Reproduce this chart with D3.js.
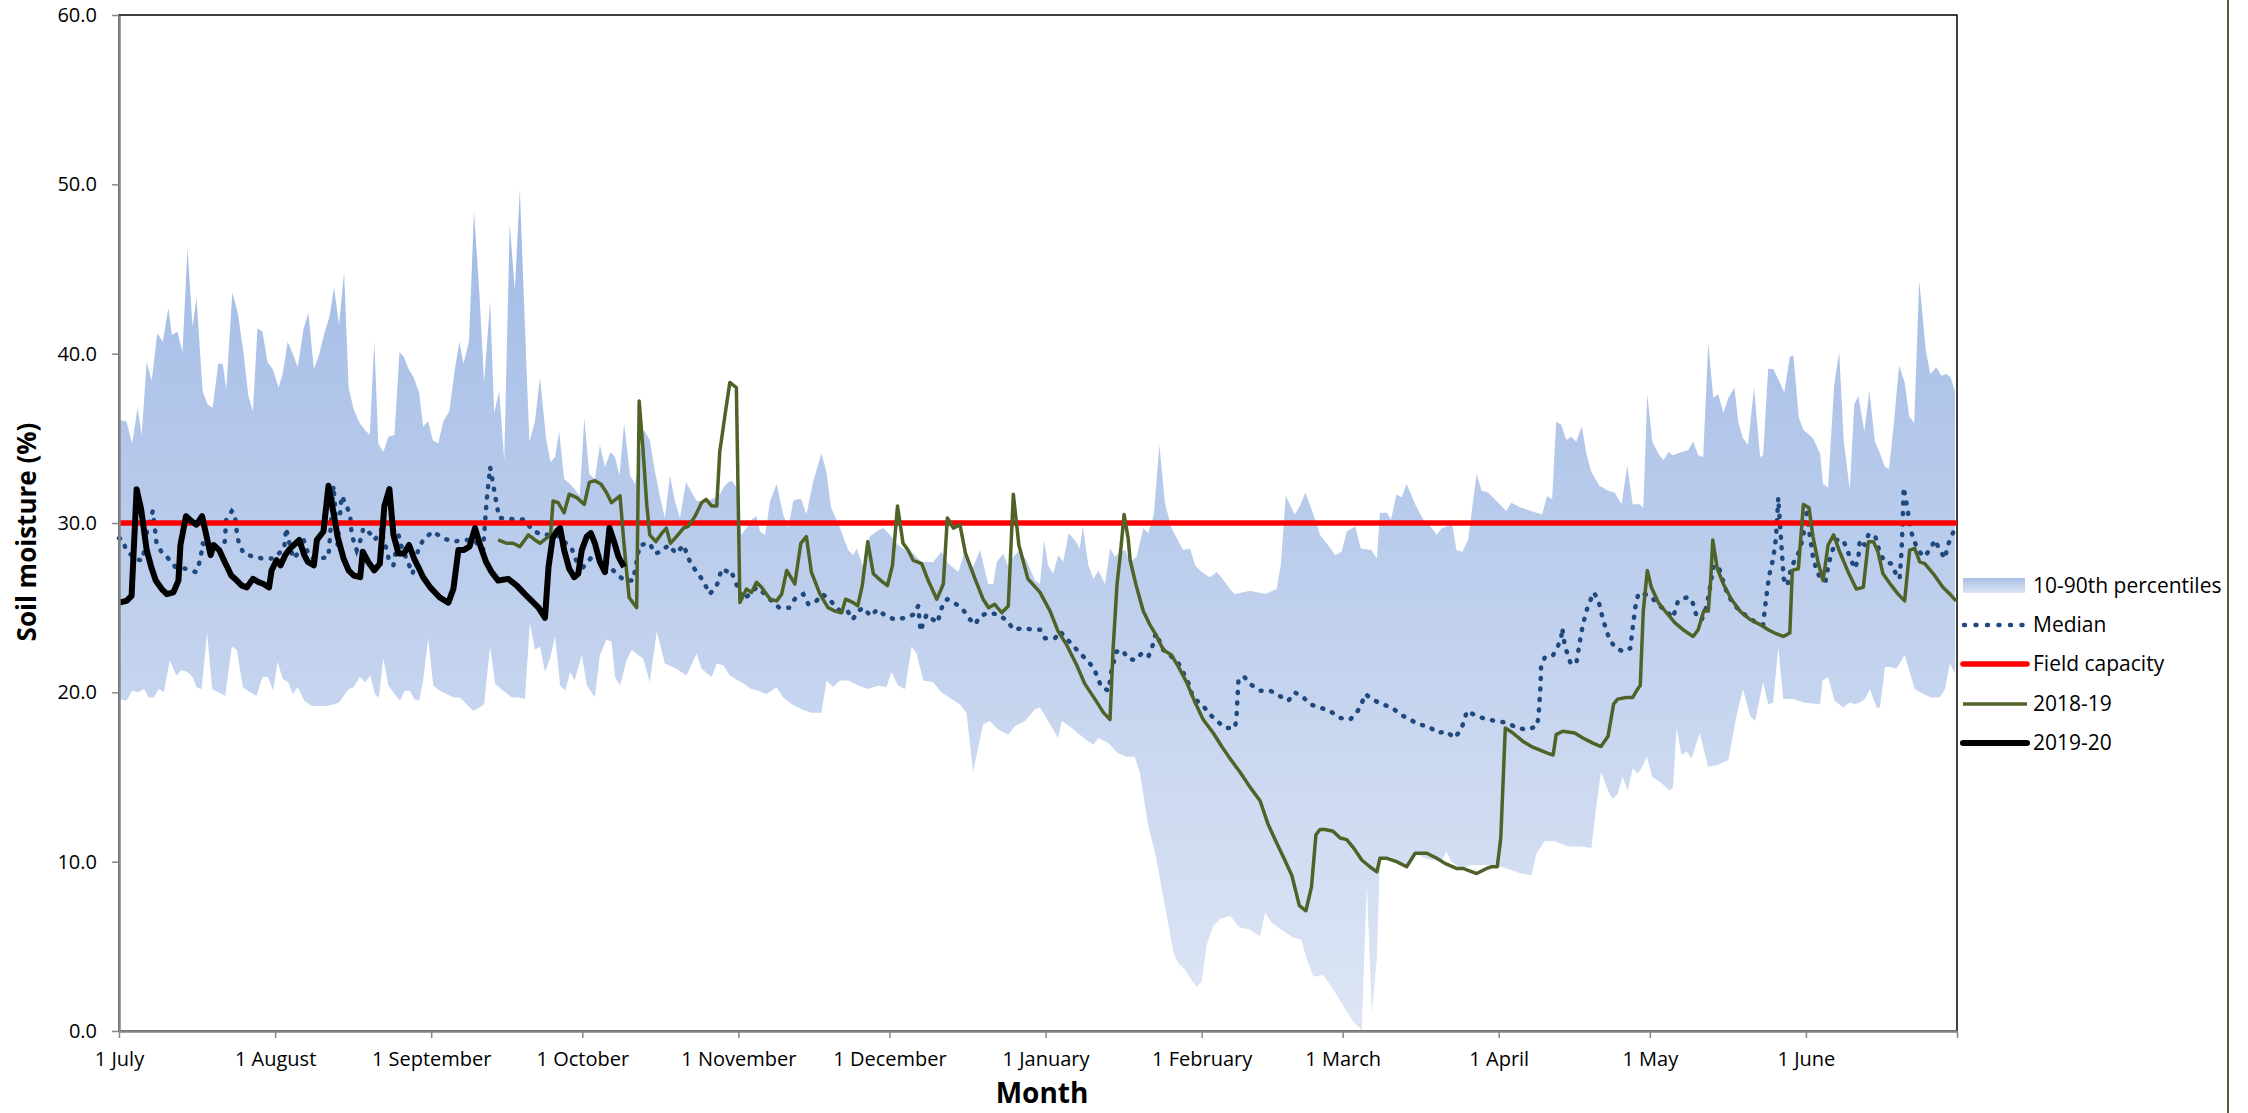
<!DOCTYPE html>
<html>
<head>
<meta charset="utf-8">
<script src="https://cdn.jsdelivr.net/npm/d3@7/dist/d3.min.js"></script>
<style>
  body { margin: 0; background: #fff; }
  svg { display: block; }
  text { font-family: "Open Sans", sans-serif; fill: #000; }
</style>
</head>
<body>
<svg id="chart" width="2248" height="1113"></svg>
<script>
// day offsets are counted from 1 July, values are soil moisture (%)
const monthLabels = ["1 July", "1 August", "1 September", "1 October", "1 November", "1 December",
  "1 January", "1 February", "1 March", "1 April", "1 May", "1 June"];
const yTicks = [0, 10, 20, 30, 40, 50, 60];
const legendLabels = ["10-90th percentiles", "Median", "Field capacity", "2018-19", "2019-20"];

const fieldCapacity = [[0, 30], [365, 30]];

const p90 = [[0,36.1],[1.5,36.0],[2.6,34.7],[3.7,36.8],[4.5,35.2],[5.5,39.5],[6.5,38.4],[7.6,41.2],[8.7,40.7],[9.8,42.7],
  [10.5,41.1],[11.6,41.3],[12.6,40.1],[13.6,46.2],[14.6,41.6],[15.4,43.3],[16.6,37.8],[17.6,37.0],[18.6,36.8],[19.7,39.4],
  [20.6,39.4],[21.3,37.9],[22.5,43.6],[23.6,42.4],[24.7,40.1],[25.7,37.5],[26.6,36.6],[27.5,41.5],[28.5,41.3],[29.5,39.5],
  [30.5,39.1],[31.7,38.0],[32.5,38.8],[33.5,40.7],[34.5,40.0],[35.5,39.2],[36.6,41.4],[37.6,42.4],[38.7,39.1],[39.7,39.9],
  [40.8,41.2],[41.8,42.2],[42.7,43.9],[43.7,41.7],[44.7,44.8],[45.6,38.0],[46.6,36.7],[47.8,35.9],[48.8,35.5],[49.8,35.2],
  [50.7,40.7],[51.5,34.7],[52.5,34.2],[53.5,35.1],[54.7,35.2],[55.7,40.1],[56.6,39.8],[57.5,39.1],[58.5,38.6],[59.6,37.7],
  [60.4,35.7],[61.4,36.0],[62.3,34.9],[63.4,34.7],[64.4,36.0],[65.6,36.6],[66.7,39.1],[67.6,40.7],[68.4,39.4],[69.5,40.7],
  [70.5,48.4],[71.6,43.4],[72.5,38.3],[73.7,43.1],[74.5,36.5],[75.5,37.8],[76.5,33.7],[77.6,47.7],[78.6,43.7],[79.6,49.7],
  [80.6,41.7],[81.5,34.8],[82.6,36.0],[83.6,38.6],[84.8,35.0],[85.7,33.6],[86.6,33.9],[87.4,35.4],[88.4,32.6],[89.6,32.3],
  [90.5,32.0],[91.5,31.6],[92.4,36.2],[93.4,32.9],[94.5,32.6],[95.5,34.6],[96.5,33.3],[97.6,34.2],[98.5,33.9],[99.4,32.8],
  [100.3,35.9],[101.5,32.8],[102.5,32.3],[104.2,35.5],[105.4,34.9],[106.4,33.1],[107.4,31.6],[108.4,30.3],[109.4,32.8],[110.4,31.3],
  [111.4,30.3],[112.6,32.4],[114.7,31.3],[116.9,31.3],[119.1,31.6],[120.3,32.2],[121.0,32.4],[121.7,32.5],[122.6,32.1],[123.6,29.3],
  [124.6,29.7],[125.6,30.2],[126.6,30.4],[127.3,29.5],[128.3,29.3],[129.3,31.3],[130.6,32.3],[131.9,30.5],[132.9,29.7],[133.9,31.3],
  [134.6,31.4],[135.5,31.4],[136.5,30.5],[137.9,32.5],[139.5,34.1],[140.5,33.0],[141.4,30.9],[142.8,30.0],[143.8,29.2],[144.8,28.4],
  [145.8,28.1],[146.5,28.5],[147.8,27.4],[149.1,29.2],[150.4,29.5],[151.8,29.7],[153.1,29.3],[154.7,28.7],[156.1,28.4],[157.4,28.3],
  [159.4,27.7],[161.7,27.7],[163.3,28.3],[164.7,27.6],[166.7,27.1],[168.0,28.4],[169.3,27.2],[171.0,28.4],[172.6,26.4],[173.6,26.4],
  [174.3,27.7],[175.6,28.2],[176.6,27.4],[177.6,28.0],[178.9,28.4],[180.2,27.8],[181.9,26.6],[182.9,26.4],[183.7,29.0],[184.5,27.5],
  [185.5,27.0],[186.5,28.1],[187.5,27.7],[188.6,29.4],[189.8,29.0],[190.8,28.5],[191.4,29.8],[192.5,27.5],[193.5,26.7],[194.5,27.2],
  [195.8,26.4],[196.8,28.5],[197.8,28.0],[198.8,28.3],[199.8,28.4],[200.8,27.7],[202.1,28.0],[203.4,29.7],[204.4,29.4],[205.5,30.5],
  [206.6,34.6],[207.7,31.2],[209.0,29.7],[211.3,28.4],[212.7,28.5],[213.7,27.5],[215.0,27.1],[216.6,26.8],[218.0,27.1],[218.9,26.8],
  [220.9,26.0],[221.6,25.8],[224.6,26.0],[227.6,25.8],[229.9,26.1],[230.7,27.5],[231.7,31.6],[233.5,30.5],[234.5,31.0],[235.6,31.8],
  [237.2,30.5],[238.5,29.3],[240.1,28.7],[241.5,28.1],[242.8,28.3],[243.8,29.5],[245.5,29.8],[246.6,28.5],[248.7,28.4],[249.8,27.9],
  [250.4,30.6],[251.8,30.6],[252.6,30.2],[253.7,31.7],[254.7,31.5],[255.7,32.3],[257.4,31.1],[259.0,30.2],[260.7,29.7],[261.7,29.3],
  [262.7,29.7],[263.7,29.8],[264.6,30.2],[265.6,28.4],[266.8,28.3],[267.9,29.0],[269.6,32.9],[270.6,31.9],[271.9,31.8],[273.9,31.2],
  [275.5,30.7],[276.5,31.2],[278.5,30.9],[280.5,30.7],[282.6,30.5],[283.6,31.6],[284.6,31.4],[285.4,36.0],[286.4,35.8],[287.4,34.9],
  [288.4,35.1],[289.4,34.8],[290.5,35.7],[291.4,34.1],[292.4,33.0],[294.0,32.2],[295.7,31.9],[297.0,31.8],[298.4,31.1],[299.5,33.4],
  [300.6,31.1],[301.9,31.1],[302.7,30.9],[303.5,37.6],[304.5,34.8],[305.7,34.1],[306.7,33.7],[307.7,34.2],[308.6,34.0],[310.3,34.2],
  [311.6,34.3],[312.6,34.8],[313.6,34.0],[314.6,33.9],[315.6,40.6],[316.6,37.4],[317.6,37.6],[318.6,36.5],[319.6,37.4],[320.8,38.0],
  [321.6,35.9],[322.5,35.0],[323.5,34.6],[324.7,38.0],[325.9,33.9],[326.5,34.0],[327.5,39.1],[328.5,39.1],[329.5,38.5],[330.7,37.7],
  [331.8,39.8],[332.5,39.9],[333.6,36.2],[334.5,35.5],[336.4,35.0],[337.8,34.1],[338.4,32.3],[339.4,32.1],[340.6,38.1],[341.6,40.1],
  [342.5,34.9],[343.7,32.0],[344.6,37.0],[345.4,37.5],[346.6,35.4],[347.6,37.8],[348.7,34.8],[349.7,34.1],[350.7,33.3],[351.5,33.2],
  [352.5,36.0],[353.5,39.3],[354.6,38.3],[355.5,36.3],[356.5,35.9],[357.5,44.3],[358.8,40.2],[359.7,38.8],[360.9,39.2],[361.9,38.7],
  [362.9,38.8],[363.7,38.6],[364.6,37.8]];

const p10 = [[0,19.6],[1.5,19.5],[2.6,20.1],[3.7,20.0],[5.0,20.2],[5.9,19.7],[6.9,19.7],[7.9,20.2],[8.9,20.0],[10.1,21.9],
  [11.4,21.0],[12.4,21.3],[13.6,21.2],[14.6,20.9],[15.4,20.3],[16.4,20.2],[17.5,23.5],[18.5,20.2],[19.7,20.0],[21.1,19.8],
  [22.4,22.7],[23.4,22.5],[24.6,20.3],[26.0,20.0],[27.3,19.8],[28.5,20.9],[29.6,20.9],[30.6,20.1],[31.5,21.8],[32.5,20.8],
  [33.6,20.6],[34.5,19.9],[35.5,20.3],[36.8,19.5],[38.3,19.2],[39.7,19.2],[41.2,19.2],[42.8,19.3],[43.7,19.4],[45.6,20.2],
  [46.6,20.3],[47.8,20.9],[48.9,20.6],[49.9,21.0],[50.8,19.9],[51.6,19.7],[52.5,22.0],[53.5,20.4],[54.7,19.9],[55.8,19.5],
  [56.7,20.1],[57.8,20.1],[58.6,19.6],[59.6,19.5],[60.4,20.7],[61.4,23.2],[62.4,20.4],[63.7,20.1],[65.1,19.9],[66.4,19.7],
  [67.7,19.7],[69.0,19.3],[70.4,18.9],[71.6,19.1],[72.5,19.3],[73.7,22.7],[74.7,20.5],[76.3,20.1],[78.0,19.7],[79.3,19.7],
  [80.6,19.6],[81.6,24.1],[82.6,22.5],[83.6,22.7],[84.6,21.2],[85.6,22.0],[86.6,23.3],[87.6,20.4],[88.6,20.1],[89.6,21.2],
  [90.5,20.7],[91.9,22.2],[92.9,20.4],[94.5,19.7],[95.5,22.2],[96.8,23.1],[97.8,23.0],[98.5,20.9],[99.5,20.4],[100.8,21.9],
  [101.8,22.5],[103.1,22.2],[104.1,22.0],[105.4,20.6],[106.8,23.6],[108.4,21.7],[110.7,21.4],[112.7,21.0],[114.7,22.3],[115.7,21.4],
  [117.7,20.9],[118.7,21.7],[120.0,21.6],[121.3,21.0],[122.3,20.8],[123.6,20.6],[125.6,20.2],[126.9,20.1],[128.6,19.9],[130.6,20.3],
  [131.9,19.7],[133.6,19.3],[135.5,19.0],[137.5,18.8],[139.5,18.8],[140.5,20.7],[141.8,20.3],[143.2,20.7],[144.8,20.7],[146.8,20.4],
  [148.8,20.2],[150.8,20.4],[152.4,20.3],[153.4,21.2],[154.7,20.4],[156.1,20.2],[157.4,22.7],[158.4,22.3],[159.7,20.7],[161.7,20.6],
  [163.3,20.0],[165.3,19.6],[167.0,19.3],[168.3,18.8],[169.6,15.3],[171.6,18.1],[172.9,18.3],[174.6,17.8],[176.6,17.5],[177.9,18.0],
  [179.9,18.3],[181.9,19.0],[182.9,19.1],[183.9,18.6],[185.5,17.8],[186.5,17.3],[187.2,18.3],[188.8,18.0],[190.8,17.5],[192.5,17.1],
  [193.5,16.9],[194.5,17.3],[196.5,17.0],[198.4,16.4],[200.1,16.2],[201.7,16.2],[202.7,15.3],[204.4,12.1],[205.7,10.6],[207.4,7.9],
  [209.4,4.6],[210.4,4.0],[211.7,3.6],[213.0,3.0],[214.0,2.6],[215.0,2.9],[216.0,5.1],[217.3,6.2],[218.6,6.6],[220.6,6.8],
  [222.6,6.1],[224.6,6.0],[226.6,5.6],[227.6,7.0],[228.9,6.4],[231.2,5.9],[233.2,5.5],[234.8,5.4],[235.8,4.3],[237.2,3.2],
  [239.1,3.3],[240.8,2.6],[242.5,1.8],[243.5,1.3],[245.2,0.5],[246.8,0.05],[247.8,8.7],[248.8,1.0],[249.8,4.3],[250.4,10.3],
  [252.1,10.1],[253.7,10.1],[255.7,9.7],[257.4,10.5],[259.3,10.2],[261.0,10.1],[262.6,10.0],[263.6,10.6],[264.6,10.0],[266.6,9.6],
  [268.6,9.8],[270.6,9.8],[272.5,9.8],[274.5,9.7],[276.5,9.5],[278.5,9.3],[280.5,9.2],[281.5,10.5],[283.1,11.2],[285.1,11.2],
  [287.7,10.9],[290.4,10.9],[292.4,10.8],[293.3,13.1],[294.3,15.3],[295.7,14.2],[296.6,13.7],[297.6,14.0],[298.6,15.0],[299.6,14.2],
  [300.6,15.5],[301.6,15.2],[302.3,15.5],[303.4,16.2],[304.5,15.0],[306.0,14.7],[308.0,14.2],[308.6,14.4],[309.3,17.9],[310.3,16.3],
  [311.3,16.5],[312.3,16.1],[313.9,17.6],[315.6,15.6],[317.3,15.7],[319.6,16.0],[321.2,18.6],[322.5,20.2],[323.9,18.6],[324.9,18.3],
  [326.5,20.6],[327.5,19.3],[328.5,19.4],[329.5,22.7],[330.5,19.6],[332.5,19.6],[334.5,19.4],[337.8,19.3],[338.3,20.7],[339.4,20.9],
  [340.7,19.5],[342.4,19.1],[343.7,19.4],[344.7,19.3],[345.7,19.4],[346.7,19.6],[347.7,20.2],[349.0,19.1],[349.7,19.1],[350.7,21.5],
  [351.7,21.5],[353.0,21.4],[354.6,22.2],[355.6,21.2],[356.6,20.2],[358.3,19.9],[359.9,19.7],[361.6,19.7],[362.6,20.2],[363.6,21.7],
  [364.6,21.1]];

const median = [[0,29.1],[0.8,29.0],[1.3,28.5],[3.0,27.9],[4.3,27.8],[4.7,27.8],[5.6,29.6],[6.7,30.7],[7.2,29.5],[7.4,28.9],
  [8.4,28.3],[9.8,27.9],[11.2,27.4],[13.2,27.3],[15.3,27.1],[15.9,27.6],[16.4,28.3],[16.6,28.8],[18.0,28.5],[19.6,28.2],
  [21.0,28.9],[21.3,30.2],[22.4,30.7],[23.0,30.5],[23.5,29.2],[23.9,28.7],[24.8,28.2],[26.7,28.0],[28.6,27.9],[30.7,27.9],
  [32.8,28.5],[33.2,29.7],[33.6,29.1],[34.2,28.4],[34.6,27.9],[35.5,28.2],[36.6,29.1],[37.1,28.5],[38.3,27.9],[39.9,27.9],
  [41.6,28.0],[42.1,30.0],[42.6,32.2],[42.9,31.0],[43.4,28.7],[44.2,31.6],[44.9,31.2],[45.9,30.5],[46.2,29.3],[47.2,28.4],
  [48.2,29.2],[48.5,29.7],[49.8,29.4],[50.7,29.0],[51.6,29.3],[52.2,29.7],[52.5,29.0],[53.2,28.4],[53.6,27.8],[54.5,27.5],
  [55.5,29.3],[56.1,28.6],[57.5,27.6],[58.3,27.0],[59.4,28.4],[60.4,29.0],[62.3,29.5],[64.4,29.1],[66.4,28.9],[68.4,29.0],
  [70.5,29.0],[72.3,28.4],[73.0,31.3],[73.7,33.3],[74.7,31.6],[75.5,30.3],[79.0,30.2],[80.6,30.2],[82.0,29.6],[83.9,29.3],
  [86.9,29.3],[89.9,28.5],[90.9,27.7],[92.2,27.4],[94.2,28.1],[95.8,28.0],[97.2,27.5],[99.1,26.9],[100.5,26.6],[102.1,26.6],
  [103.4,28.7],[105.4,28.8],[106.4,28.2],[107.7,28.3],[109.1,28.7],[110.7,28.2],[112.1,28.7],[113.4,27.7],[114.7,27.1],[116.0,26.6],
  [117.3,25.8],[118.7,26.3],[119.7,27.3],[121.0,27.1],[121.5,27.2],[122.3,26.6],[123.0,26.1],[124.0,25.5],[125.3,25.8],[126.6,26.2],
  [128.3,25.8],[129.6,25.4],[131.1,25.0],[133.1,25.0],[134.4,25.6],[135.9,25.8],[136.9,25.2],[138.2,25.3],[139.7,25.8],[141.0,25.5],
  [143.2,24.8],[144.7,24.8],[145.7,24.3],[146.8,24.8],[147.8,25.0],[149.3,24.5],[150.6,24.9],[152.3,24.5],[154.1,24.3],[156.1,24.4],
  [157.9,24.6],[158.7,25.1],[159.2,23.6],[159.7,24.1],[160.4,24.6],[161.2,24.4],[162.5,24.1],[163.2,24.8],[163.7,25.3],[164.5,25.5],
  [166.3,25.2],[167.8,24.8],[169.0,24.3],[170.0,24.0],[171.0,24.5],[172.6,24.7],[174.6,24.6],[176.5,24.2],[177.6,23.7],[179.6,23.8],
  [181.5,23.7],[182.9,23.7],[183.9,23.2],[185.9,23.2],[186.9,23.6],[188.0,23.2],[189.4,22.8],[190.8,22.3],[192.3,21.9],[193.6,21.4],
  [194.3,20.9],[195.1,20.3],[196.5,20.1],[197.1,21.3],[198.1,22.4],[199.3,22.5],[200.3,22.0],[201.8,21.9],[203.1,22.3],[204.4,22.1],
  [205.3,22.8],[205.9,23.5],[207.4,22.5],[208.7,22.2],[210.4,21.7],[211.3,21.2],[212.3,20.6],[213.3,19.7],[215.3,19.2],[216.6,18.7],
  [218.1,18.3],[219.6,17.9],[221.6,17.9],[221.9,18.4],[222.1,19.6],[222.3,20.7],[222.7,20.9],[223.5,20.9],[224.6,20.5],[226.6,20.1],
  [228.6,20.1],[230.4,19.8],[232.2,19.5],[233.5,20.0],[235.2,19.7],[236.5,19.3],[238.5,19.1],[240.5,18.9],[242.3,18.5],[244.5,18.4],
  [245.8,18.8],[246.7,19.3],[247.5,19.9],[248.8,19.6],[250.8,19.3],[252.8,19.1],[254.4,18.7],[256.4,18.4],[258.0,18.1],[260.0,18.0],
  [261.9,17.6],[263.6,17.7],[265.2,17.3],[266.5,17.8],[267.1,18.3],[267.7,18.9],[269.6,18.6],[271.7,18.4],[273.7,18.3],[275.7,18.2],
  [277.6,17.9],[279.7,17.8],[281.6,18.0],[281.9,18.6],[282.3,20.4],[282.4,21.5],[283.2,22.1],[284.8,22.2],[285.7,22.7],[286.4,23.2],
  [286.6,23.8],[287.1,22.8],[287.7,22.2],[288.3,21.7],[289.4,21.7],[290.0,22.8],[290.7,24.0],[291.7,25.1],[292.9,25.9],[293.8,25.4],
  [294.7,24.3],[296.0,23.1],[297.3,22.6],[298.8,22.4],[300.1,22.6],[300.6,23.8],[301.1,25.0],[301.7,25.8],[302.0,25.9],[304.0,25.7],
  [306.0,25.1],[307.3,24.8],[308.6,24.4],[309.6,25.4],[311.3,25.6],[312.3,25.5],[312.8,25.0],[313.4,24.4],[314.3,24.3],[315.3,25.1],
  [315.9,26.1],[316.6,27.4],[317.6,27.5],[318.3,26.8],[319.4,25.8],[320.9,25.1],[323.2,24.5],[325.2,24.1],[326.5,24.0],[326.8,24.8],
  [327.2,25.8],[327.7,26.9],[328.5,27.9],[329.0,29.0],[329.3,30.3],[329.5,31.5],[330.2,28.4],[330.6,26.7],[331.3,26.3],[332.1,27.4],
  [332.8,27.8],[333.8,28.4],[334.5,29.3],[335.1,30.6],[336.4,28.0],[337.1,27.2],[338.1,26.6],[338.9,26.6],[339.6,27.7],[340.3,28.4],
  [341.1,29.0],[342.4,29.0],[343.2,28.4],[344.0,27.8],[344.7,27.3],[345.4,27.9],[345.7,29.0],[346.7,28.7],[347.4,29.3],[348.7,29.3],
  [349.7,28.2],[350.7,27.7],[352.0,27.6],[353.0,26.9],[353.6,26.7],[354.0,28.4],[354.2,30.0],[354.4,32.1],[354.9,31.3],[355.5,30.2],
  [355.9,29.5],[356.4,29.0],[357.3,28.4],[358.4,28.0],[359.6,28.4],[360.6,29.0],[361.6,28.4],[362.6,27.9],[363.2,28.7],[363.9,29.2],
  [364.6,29.7]];

const season2018 = [[75.3,29.0],[77.0,28.8],[78.3,28.8],[79.6,28.6],[81.3,29.3],[82.6,29.0],[83.6,28.8],[84.9,29.1],[85.7,29.3],[86.2,31.3],
  [87.2,31.2],[88.4,30.6],[89.4,31.7],[90.9,31.5],[92.4,31.1],[93.4,32.4],[94.5,32.5],[95.7,32.3],[96.8,31.8],[97.8,31.2],
  [99.5,31.6],[100.3,28.7],[101.3,25.6],[102.8,25.0],[103.3,37.2],[104.0,34.6],[104.8,31.1],[105.4,29.3],[106.6,28.9],[107.8,29.4],
  [108.7,29.7],[109.5,28.8],[110.7,29.2],[112.1,29.7],[113.0,29.8],[114.4,30.4],[115.7,31.2],[116.6,31.4],[117.7,31.0],[118.7,31.0],
  [119.3,34.2],[120.4,36.5],[121.3,38.3],[122.6,38.0],[123.3,25.3],[124.6,26.1],[125.6,25.9],[126.6,26.5],[127.6,26.2],[129.3,25.5],
  [130.6,25.4],[131.6,25.8],[132.6,27.2],[134.2,26.4],[135.4,28.8],[136.5,29.2],[137.5,27.1],[139.2,25.8],[140.8,25.0],[142.2,24.8],
  [143.5,24.7],[144.3,25.5],[145.8,25.3],[146.7,25.1],[147.6,26.3],[148.7,28.9],[149.8,27.0],[151.3,26.6],[152.6,26.3],[153.6,27.5],
  [154.6,31.0],[155.7,28.8],[156.7,28.4],[157.7,27.8],[159.4,27.6],[160.7,26.6],[162.4,25.5],[163.7,26.4],[164.5,30.3],[165.7,29.7],
  [167.0,29.9],[168.1,28.2],[170.0,26.7],[171.6,25.5],[172.7,25.0],[173.9,25.2],[175.3,24.7],[176.6,25.1],[177.6,31.7],[178.7,28.7],
  [180.5,26.7],[182.9,25.9],[184.9,24.8],[186.5,23.6],[188.2,22.8],[190.2,21.6],[191.8,20.5],[193.8,19.6],[195.5,18.8],[196.8,18.4],
  [197.4,22.5],[198.2,26.4],[198.8,28.0],[199.6,30.5],[200.4,29.1],[200.8,27.8],[202.0,26.3],[203.4,24.8],[204.7,24.0],[206.1,23.3],
  [207.4,22.5],[209.0,22.2],[210.4,21.5],[212.0,20.6],[213.7,19.4],[215.3,18.4],[217.3,17.6],[219.0,16.8],[220.6,16.1],[222.6,15.3],
  [224.6,14.4],[226.6,13.6],[228.2,12.2],[229.9,11.1],[231.5,10.1],[232.9,9.2],[234.4,7.4],[235.7,7.1],[236.8,8.5],[237.7,11.6],
  [238.5,11.9],[239.5,11.9],[241.1,11.8],[242.5,11.4],[243.8,11.3],[245.2,10.8],[246.8,10.1],[248.4,9.7],[249.8,9.4],[250.4,10.2],
  [251.8,10.2],[253.7,10.0],[255.7,9.7],[257.4,10.5],[259.7,10.5],[261.7,10.2],[263.3,9.9],[265.6,9.6],[266.9,9.6],[269.6,9.3],
  [271.6,9.6],[272.6,9.7],[273.7,9.7],[274.4,11.4],[275.3,17.9],[276.8,17.6],[278.8,17.1],[280.5,16.8],[282.1,16.6],[283.8,16.4],
  [284.8,16.3],[285.4,17.5],[286.7,17.7],[289.1,17.6],[290.7,17.3],[292.7,17.0],[294.3,16.8],[295.7,17.4],[296.8,19.3],[297.6,19.6],
  [299.3,19.7],[300.6,19.7],[301.6,20.2],[302.1,20.4],[302.7,24.8],[303.5,27.2],[304.3,26.2],[305.7,25.3],[307.3,24.7],[309.0,24.1],
  [310.6,23.7],[312.6,23.3],[313.6,23.7],[314.7,24.8],[315.6,24.8],[316.1,26.7],[316.5,29.0],[317.4,27.3],[318.6,26.4],[320.2,25.5],
  [321.9,24.8],[323.9,24.3],[325.9,24.0],[327.5,23.7],[328.8,23.5],[330.5,23.3],[331.8,23.5],[332.3,27.2],[333.5,27.3],[334.5,31.1],
  [335.6,30.9],[336.4,29.2],[337.4,27.7],[338.4,26.6],[339.4,28.7],[340.5,29.3],[341.7,28.3],[343.4,27.1],[345.0,26.1],[346.4,26.2],
  [347.4,28.9],[348.4,28.9],[349.3,28.3],[350.3,27.0],[352.0,26.3],[353.3,25.8],[354.6,25.4],[355.6,28.4],[356.6,28.5],[357.6,27.7],
  [358.6,27.6],[360.3,27.0],[362.2,26.2],[363.6,25.8],[364.8,25.4]];

const season2019 = [[0,25.3],[1.5,25.4],[2.5,25.7],[3.5,32.0],[4.4,30.8],[5.5,28.4],[6.4,27.4],[7.3,26.6],[8.5,26.1],[9.5,25.8],
  [10.8,25.9],[11.8,26.6],[12.2,28.7],[13.3,30.4],[14.4,30.1],[15.4,29.9],[16.5,30.4],[17.4,29.2],[18.2,28.1],[18.8,28.7],
  [19.9,28.4],[21.0,27.7],[22.3,26.9],[23.4,26.6],[24.4,26.3],[25.4,26.2],[26.6,26.7],[27.8,26.5],[28.7,26.4],[29.8,26.2],
  [30.3,27.2],[31.3,27.8],[32.1,27.5],[33.0,28.1],[34.0,28.5],[35.8,29.0],[36.8,28.1],[37.5,27.7],[38.7,27.5],[39.3,29.0],
  [40.6,29.5],[41.6,32.2],[42.6,30.6],[43.4,29.2],[44.6,27.9],[45.6,27.2],[46.6,26.9],[47.9,26.8],[48.4,28.3],[49.5,27.7],
  [50.7,27.2],[51.8,27.6],[52.7,31.0],[53.7,32.0],[54.5,29.3],[55.5,28.2],[56.6,28.2],[57.6,28.7],[58.6,27.9],[59.6,27.3],
  [60.4,26.8],[61.8,26.2],[63.7,25.6],[65.4,25.3],[66.4,26.1],[67.4,28.4],[68.4,28.4],[69.6,28.6],[70.7,29.7],[71.7,28.7],
  [72.9,27.7],[74.0,27.1],[75.3,26.6],[77.3,26.7],[79.0,26.3],[80.6,25.8],[82.3,25.3],[83.3,25.0],[84.6,24.4],[85.3,27.4],
  [86.1,29.1],[86.9,29.5],[87.6,29.7],[88.4,28.4],[89.4,27.3],[90.4,26.8],[91.2,27.0],[91.9,28.4],[92.9,29.2],[93.7,29.4],
  [94.5,28.8],[95.5,27.7],[96.5,27.1],[97.4,29.7],[98.2,29.0],[99.2,28.0],[100.3,27.4]];

const svg = d3.select("#chart");
const plot = { left: 119, top: 15, right: 1957, bottom: 1031 };
const start = Date.UTC(2018, 6, 1);
const toDate = d => new Date(start + d * 864e5);

const x = d3.scaleUtc().domain([toDate(0), toDate(365)]).range([plot.left, plot.right]);
const y = d3.scaleLinear().domain([0, 60]).range([plot.bottom, plot.top]);

const line = d3.line().x(d => x(toDate(d[0]))).y(d => y(d[1]));

const defs = svg.append("defs");
const grad = defs.append("linearGradient").attr("id", "bandGrad")
  .attr("gradientUnits", "userSpaceOnUse")
  .attr("x1", 0).attr("y1", plot.top).attr("x2", 0).attr("y2", plot.bottom);
grad.append("stop").attr("offset", 0).attr("stop-color", "#94B1E2");
grad.append("stop").attr("offset", 1).attr("stop-color", "#DEE6F5");
const lgGrad = defs.append("linearGradient").attr("id", "legendGrad")
  .attr("x1", 0).attr("y1", 0).attr("x2", 0).attr("y2", 1);
lgGrad.append("stop").attr("offset", 0).attr("stop-color", "#A9C0E6");
lgGrad.append("stop").attr("offset", 1).attr("stop-color", "#DCE4F4");

// 10-90th percentile band: upper edge forward, lower edge back
svg.append("path")
  .attr("d", line(p90.concat(p10.slice().reverse())) + "Z")
  .attr("fill", "url(#bandGrad)");

// plot border
svg.append("rect")
  .attr("x", plot.left).attr("y", plot.top)
  .attr("width", plot.right - plot.left).attr("height", plot.bottom - plot.top)
  .attr("fill", "none").attr("stroke", "#000").attr("stroke-width", 1.5);

svg.append("path").attr("d", line(median))
  .attr("fill", "none").attr("stroke", "#1F497D").attr("stroke-width", 4.5)
  .attr("stroke-linecap", "round").attr("stroke-dasharray", "1 9.5");

svg.append("path").attr("d", line(fieldCapacity))
  .attr("fill", "none").attr("stroke", "#FF0000").attr("stroke-width", 5.5);

svg.append("path").attr("d", line(season2018))
  .attr("fill", "none").attr("stroke", "#4F6228").attr("stroke-width", 3.5)
  .attr("stroke-linejoin", "round");

svg.append("path").attr("d", line(season2019))
  .attr("fill", "none").attr("stroke", "#000").attr("stroke-width", 6)
  .attr("stroke-linejoin", "round");

// axes
const xTicks = d3.utcMonth.range(toDate(0), toDate(366));
const xAxis = svg.append("g").attr("transform", `translate(0,${plot.bottom})`)
  .call(d3.axisBottom(x).tickValues(xTicks).tickSize(7).tickPadding(14).tickSizeOuter(0)
    .tickFormat((d, i) => monthLabels[i] || ""));
const yAxis = svg.append("g").attr("transform", `translate(${plot.left},0)`)
  .call(d3.axisLeft(y).tickValues(yTicks).tickSize(7).tickPadding(15).tickSizeOuter(0)
    .tickFormat(d3.format(".1f")));
[xAxis, yAxis].forEach(g => {
  g.select(".domain").attr("stroke", "#868686").attr("stroke-width", 2.5);
  g.selectAll(".tick line").attr("stroke", "#868686").attr("stroke-width", 1.5);
  g.selectAll(".tick text").attr("font-size", 20).attr("font-family", "Open Sans").attr("fill", "#000");
});

svg.append("text")
  .attr("transform", "translate(36,532) rotate(-90)")
  .attr("text-anchor", "middle")
  .attr("font-size", 26).attr("font-weight", "bold")
  .text("Soil moisture (%)");

svg.append("text")
  .attr("x", 1042).attr("y", 1103)
  .attr("text-anchor", "middle")
  .attr("font-size", 28).attr("font-weight", "bold")
  .text("Month");

// legend
const lg = svg.append("g").attr("transform", "translate(1963,0)");
const rowY = [586, 625, 664, 704, 743];
lg.append("rect").attr("x", 0).attr("y", rowY[0] - 8).attr("width", 62).attr("height", 15)
  .attr("fill", "url(#legendGrad)");
lg.append("line").attr("x1", 1).attr("x2", 60).attr("y1", rowY[1]).attr("y2", rowY[1])
  .attr("stroke", "#1F497D").attr("stroke-width", 4.5).attr("stroke-linecap", "round")
  .attr("stroke-dasharray", "1 10.5");
lg.append("line").attr("x1", 0).attr("x2", 64).attr("y1", rowY[2]).attr("y2", rowY[2])
  .attr("stroke", "#FF0000").attr("stroke-width", 5.5).attr("stroke-linecap", "round");
lg.append("line").attr("x1", 0).attr("x2", 64).attr("y1", rowY[3]).attr("y2", rowY[3])
  .attr("stroke", "#4F6228").attr("stroke-width", 3.5);
lg.append("line").attr("x1", 0).attr("x2", 64).attr("y1", rowY[4]).attr("y2", rowY[4])
  .attr("stroke", "#000").attr("stroke-width", 6).attr("stroke-linecap", "round");
lg.selectAll("text.lbl").data(legendLabels).join("text")
  .attr("class", "lbl")
  .attr("x", 70).attr("y", (d, i) => rowY[i])
  .attr("dy", "0.35em")
  .attr("font-size", 21)
  .text(d => d);

// stray frame line at the right edge of the picture
svg.append("line").attr("x1", 2228).attr("x2", 2228).attr("y1", 0).attr("y2", 1113)
  .attr("stroke", "#4F6228").attr("stroke-width", 2);
</script>
</body>
</html>
